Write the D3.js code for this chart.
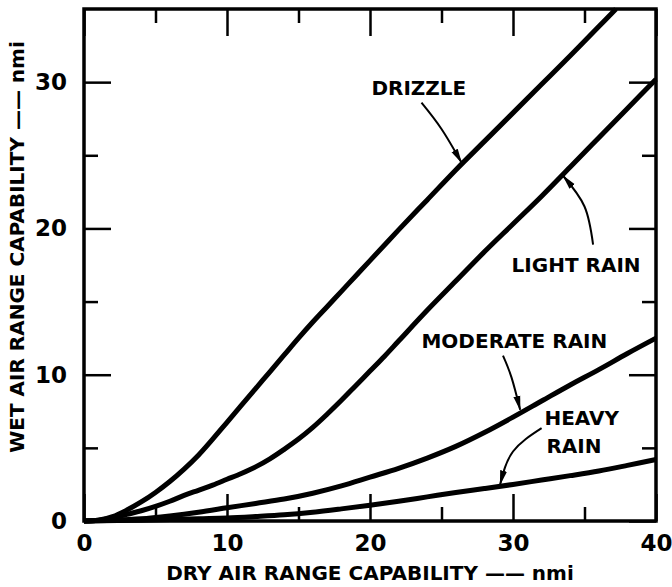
<!DOCTYPE html>
<meta charset="utf-8" />
<html>
<head>
<script src="https://d3js.org/d3.v7.min.js"></script>
<style>
    body { margin: 0; background: #fff; }
    text { font-family: "DejaVu Sans", sans-serif; font-weight: bold; fill: #000; }
    .axis .domain { display: none; }
    .axis line { stroke: #000; stroke-width: 2.5; }
</style>
</head>
<body>
<svg width="672" height="587"></svg>
<script>
// Tick values (nmi)
var xMajor = [0, 10, 20, 30, 40];
var xMinor = [5, 15, 25, 35];
var yMajor = [0, 10, 20, 30];
var yMinor = [5, 15, 25];

// Curves: dry air range -> wet air range (nmi)
var drizzleX = [0, 1, 2, 3, 4, 5, 6, 7, 8, 9, 10, 11, 12, 13, 14, 15, 16, 17, 18, 19, 20, 22, 24, 26, 28, 30, 32, 34, 36, 37.2];
var drizzleY = [0, 0.05, 0.3, 0.75, 1.3, 1.95, 2.7, 3.55, 4.5, 5.6, 6.75, 7.9, 9.05, 10.2, 11.35, 12.5, 13.6, 14.65, 15.7, 16.75, 17.8, 19.9, 21.95, 24.0, 25.95, 27.9, 29.85, 31.8, 33.8, 35];

var lightX = [0, 1, 2, 3, 4, 5, 6, 7, 8, 9, 10, 11, 12, 13, 14, 15, 16, 17, 18, 19, 20, 21, 22, 24, 26, 28, 30, 32, 34, 36, 38, 40];
var lightY = [0, 0.05, 0.2, 0.45, 0.7, 1.0, 1.35, 1.75, 2.1, 2.45, 2.85, 3.25, 3.7, 4.25, 4.9, 5.6, 6.4, 7.3, 8.25, 9.25, 10.25, 11.25, 12.3, 14.4, 16.4, 18.4, 20.3, 22.2, 24.2, 26.2, 28.2, 30.2];

var moderateX = [0, 2, 4, 6, 8, 10, 12, 14, 16, 18, 20, 22, 24, 26, 28, 30, 32, 34, 36, 38, 40];
var moderateY = [0, 0.05, 0.15, 0.35, 0.6, 0.9, 1.2, 1.5, 1.9, 2.4, 3.0, 3.6, 4.3, 5.1, 6.05, 7.1, 8.2, 9.3, 10.35, 11.45, 12.5];

var heavyX = [0, 4, 8, 10, 12, 14, 16, 18, 20, 22, 24, 26, 28, 30, 32, 34, 36, 38, 40];
var heavyY = [0, 0.05, 0.15, 0.2, 0.3, 0.42, 0.6, 0.83, 1.08, 1.35, 1.65, 1.95, 2.22, 2.5, 2.8, 3.1, 3.42, 3.8, 4.2];

var svg = d3.select("svg");
var margin = {top: 9, right: 16, bottom: 66, left: 84};
var width = 672 - margin.left - margin.right;
var height = 587 - margin.top - margin.bottom;
var g = svg.append("g").attr("transform", "translate(" + margin.left + "," + margin.top + ")");

var x = d3.scaleLinear().domain([0, 40]).range([0, width]);
var y = d3.scaleLinear().domain([0, 35]).range([height, 0]);

// inward ticks on all four sides, long at the tens, short at the fives
function ticks(axisFn, vals, size, transform, labels) {
    var a = axisFn.tickValues(vals).tickSizeInner(-size).tickSizeOuter(0);
    if (!labels) a.tickFormat("");
    var sel = g.append("g").attr("class", "axis").attr("transform", transform).call(a);
    sel.selectAll("text").style("font-size", "23px").attr("fill", "#000");
    return sel;
}
ticks(d3.axisBottom(x).tickPadding(14), xMajor, 27, "translate(0," + height + ")", true);
ticks(d3.axisBottom(x), xMinor, 14, "translate(0," + height + ")", false);
ticks(d3.axisTop(x), xMajor, 27, "translate(0,0)", false);
ticks(d3.axisTop(x), xMinor, 14, "translate(0,0)", false);
ticks(d3.axisLeft(y).tickPadding(17), yMajor, 27, "translate(0,0)", true);
ticks(d3.axisLeft(y), yMinor, 14, "translate(0,0)", false);
ticks(d3.axisRight(y), yMajor, 27, "translate(" + width + ",0)", false);
ticks(d3.axisRight(y), yMinor, 14, "translate(" + width + ",0)", false);

// frame
g.append("rect")
    .attr("width", width).attr("height", height)
    .attr("fill", "none").attr("stroke", "#000").attr("stroke-width", 3.5);

// curves
var line = d3.line()
    .x(function(d) { return x(d[0]); })
    .y(function(d) { return y(d[1]); })
    .curve(d3.curveCatmullRom.alpha(0.5));

[[drizzleX, drizzleY], [lightX, lightY], [moderateX, moderateY], [heavyX, heavyY]].forEach(function(s) {
    g.append("path")
        .datum(d3.zip(s[0], s[1]))
        .attr("fill", "none")
        .attr("stroke", "#000")
        .attr("stroke-width", 5)
        .attr("stroke-linejoin", "round")
        .attr("d", line);
});

// arrowhead for the leaders
svg.append("defs").append("marker")
    .attr("id", "head")
    .attr("viewBox", "0 0 15 8")
    .attr("refX", 14).attr("refY", 4)
    .attr("markerWidth", 15).attr("markerHeight", 8)
    .attr("markerUnits", "userSpaceOnUse")
    .attr("orient", "auto")
    .append("path").attr("d", "M0,0.5 L15,4 L0,7.5 Z").attr("fill", "#000");

// labels (data coords) with curved leaders ending on their curve
var labels = [
    {lines: ["DRIZZLE"], at: [20.1, 29.1], leader: [[23.6, 28.6], [25.0, 26.8], [26.4, 24.5]]},
    {lines: ["LIGHT RAIN"], at: [29.9, 17.0], leader: [[35.6, 18.9], [35.0, 21.5], [33.5, 23.6]]},
    {lines: ["MODERATE RAIN"], at: [23.6, 11.8], leader: [[29.3, 11.3], [29.9, 9.8], [30.5, 7.6]]},
    {lines: ["HEAVY", "RAIN"], at: [32.2, 6.55], leader: [[32.0, 6.35], [30.0, 4.75], [29.1, 2.5]]}
];

var leaderLine = d3.line()
    .x(function(d) { return x(d[0]); })
    .y(function(d) { return y(d[1]); })
    .curve(d3.curveNatural);

labels.forEach(function(l) {
    var t = g.append("text")
        .attr("x", x(l.at[0])).attr("y", y(l.at[1]))
        .style("font-size", "20px");
    l.lines.forEach(function(s, i) {
        t.append("tspan").attr("x", x(l.at[0]) + i * 2).attr("dy", i ? 28 : 0).text(s);
    });
    g.append("path")
        .attr("d", leaderLine(l.leader))
        .attr("fill", "none").attr("stroke", "#000").attr("stroke-width", 2)
        .attr("marker-end", "url(#head)");
});

// axis titles
svg.append("text")
    .attr("x", margin.left + width / 2).attr("y", 580)
    .attr("text-anchor", "middle")
    .style("font-size", "20px")
    .text("DRY AIR RANGE CAPABILITY \u2014\u2014 nmi");

svg.append("text")
    .attr("transform", "translate(24,247) rotate(-90)")
    .attr("text-anchor", "middle")
    .style("font-size", "20px")
    .text("WET AIR RANGE CAPABILITY \u2014\u2014 nmi");
</script>
</body>
</html>
